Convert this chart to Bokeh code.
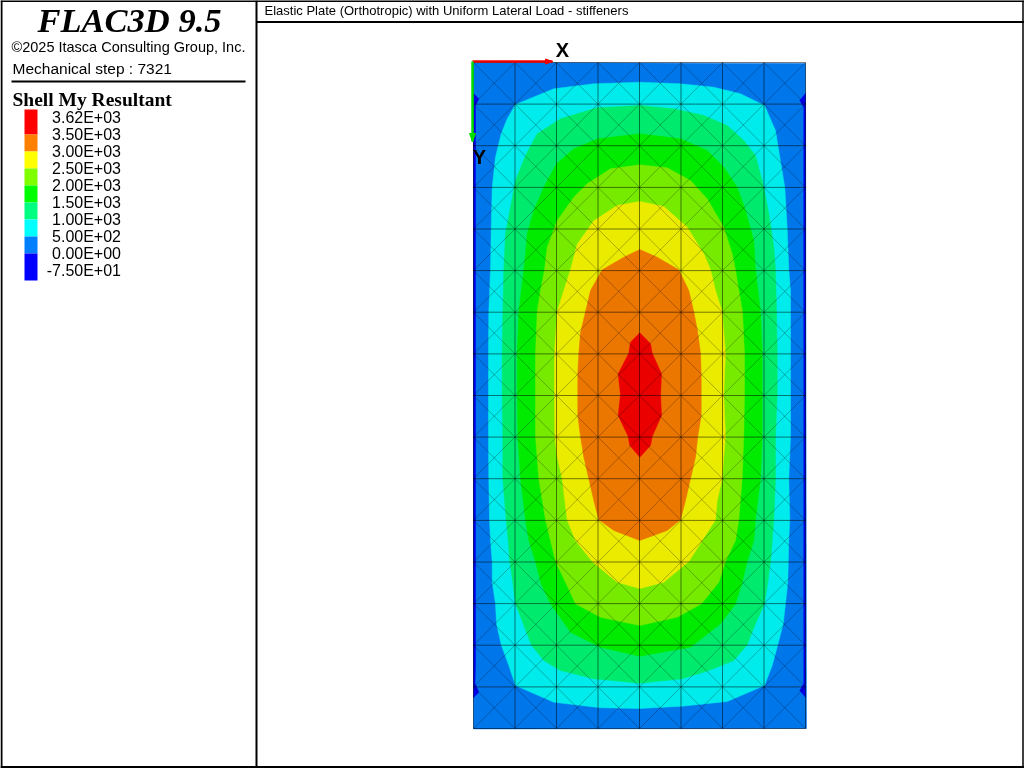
from bokeh.plotting import figure
from bokeh.models import Range1d
from bokeh.core.properties import value
from bokeh.embed import file_html
from bokeh.resources import INLINE

# ---- data -----------------------------------------------------------------
LEGEND_LABELS = ["3.62E+03", "3.50E+03", "3.00E+03", "2.50E+03", "2.00E+03",
                 "1.50E+03", "1.00E+03", "5.00E+02", "0.00E+00", "-7.50E+01"]
LEGEND_COLORS = ["#FF0000", "#FF8000", "#FFFF00", "#80FF00", "#00FF00",
                 "#00FF80", "#00FFFF", "#0080FF", "#0000FF"]

# mesh node positions in plate coordinates
MESH_X = [0, 41.5, 83, 124.5, 166, 207.5, 249, 290.5, 332]
MESH_Y = [0, 41.6, 83.2, 124.9, 166.5, 208.1, 249.7, 291.4, 333, 374.6, 416.2,
          457.9, 499.5, 541.1, 582.7, 624.4, 666]

PLATE = [(0, 0), (332, 1), (333, 666), (0, 666.5)]

BELOW_0_LEFT = [(0, 31), (5.3, 36.3), (2, 43), (2, 340), (2, 600), (1.5, 621), (5.3, 629.7), (0, 635.3)]
BELOW_0_RIGHT = [(332, 31), (326.3, 38), (330.3, 44.7), (330.3, 340), (330.3, 621), (326.3, 628), (332, 634.7)]

LEVEL_500 = [(166.3, 19.7), (207, 21.3), (240.3, 24.7), (267, 31.3), (291, 43), (302, 68), (306.3, 94.7),
             (311.3, 124.7), (313.7, 165.7), (315.3, 207.3), (317, 228), (317, 290.7), (317, 332.3), (317, 374),
             (315.3, 416.3), (316.3, 457.3), (315.3, 478), (314.3, 519.7), (312, 541.3), (309.7, 561.3),
             (304.3, 582.3), (298.7, 603), (291, 623), (253.7, 639), (208.7, 643.7), (166.3, 646), (127, 645.3),
             (80.3, 639.7), (42, 623), (35.3, 603), (27.7, 582.3), (23, 561.3), (22, 541.3), (18.7, 519.7),
             (18.7, 499), (17, 478), (16, 457.3), (15.3, 416.3), (15, 374), (15, 332.3), (15, 290.7), (15.3, 249.3),
             (17, 207.3), (17.7, 165.7), (18.7, 124.7), (22, 94.7), (27.7, 71.3), (33.7, 56.3), (42, 42),
             (80.3, 26.3), (120.3, 21.3)]

LEVEL_1000 = [(166.3, 43), (200.3, 46.3), (230.3, 53), (253.7, 63), (270.3, 78), (282, 93), (290.3, 124.7),
              (295.3, 151.3), (300.3, 184.7), (302, 207.3), (303, 249.3), (303.7, 290.7), (303.7, 332.3), (302, 374),
              (302, 416.3), (300.3, 457.3), (298.7, 478), (297, 499), (294.3, 519.7), (291, 541.3), (282, 561.3),
              (273.7, 582.3), (260.3, 598), (235.3, 608), (208.7, 616.3), (166.3, 620.7), (120.3, 616.3), (87, 608),
              (70.3, 598), (57.7, 582.3), (49.7, 561.3), (42, 541.3), (39.3, 519.7), (36.3, 499), (34.7, 478),
              (32.7, 457.3), (29.3, 416.3), (29.3, 374), (28.7, 332.3), (28.7, 290.7), (29.3, 249.3), (30.3, 207.3),
              (32, 171.3), (37, 144.7), (42, 118), (52, 93), (63.7, 71.3), (87, 56.3), (123.7, 45.3)]

LEVEL_1500 = [(166.3, 71.3), (207, 76.3), (233.7, 88), (250.3, 104.7), (263.7, 124.7), (272, 148), (280.3, 178),
              (282, 207.3), (287, 249.3), (288.7, 290.7), (288.7, 332.3), (288.7, 374), (287, 416.3), (282, 457.3),
              (280.3, 478), (273.7, 499), (268.7, 519.7), (262, 541.3), (247, 561.3), (217, 584.7), (166.3, 593.7),
              (127, 584.7), (97, 569.7), (77, 541.3), (67, 519.7), (62, 499), (55.3, 478), (52, 457.3), (47, 416.3),
              (44.3, 374), (43.7, 332.3), (43.7, 290.7), (45.3, 249.3), (50.3, 207.3), (52, 191.3), (53.7, 171.3),
              (60.3, 148), (70.3, 124.7), (83, 101.3), (100.3, 86.3), (124.7, 76.3)]

LEVEL_2000 = [(166.3, 102.3), (193.7, 105.3), (217, 118), (233.7, 136.3), (250.3, 164.7), (258.7, 191.3),
              (262, 207.3), (265.3, 228), (269, 249.3), (271, 290.7), (271, 332.3), (270.3, 374), (268.7, 416.3),
              (265.3, 457.3), (262, 478), (252, 499), (245.3, 519.7), (228, 541.3), (203.7, 554.7), (166.3, 563),
              (127, 554.7), (102, 541.3), (92, 519.7), (82, 499), (77, 478), (72, 457.3), (65.3, 416.3),
              (62, 374), (62, 332.3), (62, 290.7), (63.7, 249.3), (67, 228), (71, 207.3), (73.7, 184.7), (83.7, 158),
              (100.3, 134.7), (113.7, 121.3), (137, 106.3)]

LEVEL_2500 = [(166.3, 139), (190.3, 144), (213.7, 164.7), (230.3, 191.3), (237, 207.3), (242, 228), (248.7, 249.3),
              (250.3, 270), (252, 290.7), (250.3, 332.3), (252, 374), (250.3, 394), (248.7, 416.3), (243.7, 438),
              (242, 457.3), (228.7, 478), (215.3, 499), (190.3, 519.7), (166.3, 526), (143.7, 519.7), (118.7, 499),
              (102, 478), (93.7, 457.3), (88.7, 416.3), (83.7, 394), (81.3, 374), (81, 332.3), (81, 290.7), (83.7, 249.3),
              (90.3, 228), (97, 207.3), (103.7, 181.7), (120.3, 158.3), (143.7, 143)]

LEVEL_3000 = [(166.3, 187), (183.7, 194.7), (205.3, 207.3), (215.3, 228), (220.3, 249.3),
              (224.3, 270), (227, 290.7), (227.7, 311), (227.7, 332.3), (227.7, 353), (224.3, 374), (222, 394.7),
              (217, 416.3), (212, 438), (207, 457.3), (193.7, 468), (166.3, 478), (140.3, 468), (125.3, 457.3),
              (120.3, 438), (115.3, 416.3), (110.3, 394.7), (107, 374), (104.3, 353), (104.3, 332.3), (104.3, 311),
              (105.3, 290.7), (107, 270), (112, 249.3), (117, 228), (128.7, 207.3), (150.3, 194.7)]

LEVEL_3500 = [(166.3, 270.3), (177, 281.3), (178.7, 290.7), (188, 311.3), (187, 332.3), (188, 353), (178.7, 374),
              (177, 383), (166.3, 394.7), (156.3, 383), (154.7, 374), (144.7, 353), (147, 332.3), (144.7, 311.3),
              (155.3, 290.7), (157, 279.7)]

CONTOUR_BANDS = [LEVEL_500, LEVEL_1000, LEVEL_1500, LEVEL_2000, LEVEL_2500, LEVEL_3000, LEVEL_3500]
CONTOUR_COLORS = ["#00EBEB", "#00EB6E", "#00EB00", "#76EB00", "#EBEB00", "#EB7600", "#EB0000"]
PLATE_COLOR = "#0076EB"
BELOW_0_COLOR = "#0000EB"

# ---- figure: default range is window pixels, "plate" range is the model ----
p = figure(width=1024, height=768, output_backend="svg", toolbar_location=None,
           x_range=Range1d(0, 1024), y_range=Range1d(768, 0),
           min_border=0, min_border_left=0, min_border_right=0, min_border_top=0, min_border_bottom=0,
           outline_line_color=None, background_fill_color="white", border_fill_color="white",
           x_axis_location=None, y_axis_location=None)
p.grid.visible = False
p.styles = {"position": "fixed", "left": "0px", "top": "0px"}
p.extra_x_ranges = {"plate": Range1d(-473, 551)}
p.extra_y_ranges = {"plate": Range1d(706, -62)}
PL = dict(x_range_name="plate", y_range_name="plate")


def poly(points, color):
    p.patch([a for a, _ in points], [b for _, b in points], fill_color=color, line_color=color,
            line_width=0.5, **PL)


poly(PLATE, PLATE_COLOR)
poly(BELOW_0_LEFT, BELOW_0_COLOR)
poly(BELOW_0_RIGHT, BELOW_0_COLOR)
for band, col in zip(CONTOUR_BANDS, CONTOUR_COLORS):
    poly(band, col)

# mesh: rectangular cells with both diagonals
rx, ry = [], []
for x in MESH_X:
    rx.append([x, x]); ry.append([MESH_Y[0], MESH_Y[-1]])
for y in MESH_Y:
    rx.append([MESH_X[0], MESH_X[-1]]); ry.append([y, y])
p.multi_line(rx, ry, line_color="#000000", line_alpha=0.5, line_width=1.0, **PL)
dx, dy = [], []
for i in range(len(MESH_X) - 1):
    for j in range(len(MESH_Y) - 1):
        dx.append([MESH_X[i], MESH_X[i + 1]]); dy.append([MESH_Y[j], MESH_Y[j + 1]])
        dx.append([MESH_X[i + 1], MESH_X[i]]); dy.append([MESH_Y[j], MESH_Y[j + 1]])
p.multi_line(dx, dy, line_color="#000000", line_alpha=0.45, line_width=0.6, **PL)

# axes triad
p.line([472, 552], [61, 61], line_color="#F00000", line_width=2.5)
p.patch([545, 552, 545], [58.5, 61, 63.5], fill_color="#F00000", line_color="#F00000")
p.line([472, 472], [61, 141], line_color="#00E000", line_width=2.5)
p.patch([469, 472, 475], [133, 141, 133], fill_color="#00E000", line_color="#00E000")
for tx, ty, s in [(562, 49, "X"), (479, 156, "Y")]:
    p.text([tx], [ty], text=[s], text_font=value("Liberation Sans"), text_font_style="bold",
           text_font_size="20px", text_color="#000000", text_align="center", text_baseline="middle")

# frame
for xs, ys, w in [([1, 1], [0, 768], 2), ([1022.5, 1022.5], [0, 768], 1.5), ([0, 1024], [0.5, 0.5], 2),
                  ([0, 1024], [766.5, 766.5], 2), ([256, 256], [0, 768], 2), ([256, 1024], [21.5, 21.5], 2),
                  ([11, 245], [81, 81], 2)]:
    p.line(xs, ys, line_color="#000000", line_width=w)

# header texts
p.text([129], [19], text=["FLAC3D 9.5"], text_font=value("Liberation Serif"), text_font_style="bold italic",
       text_font_size="34.5px", text_color="#000000", text_align="center", text_baseline="middle")
p.text([11], [46], text=["\u00a92025 Itasca Consulting Group, Inc."], text_font=value("Liberation Sans"),
       text_font_size="14.5px", text_color="#000000", text_baseline="middle")
p.text([12], [67.5], text=["Mechanical step : 7321"], text_font=value("Liberation Sans"),
       text_font_size="15.5px", text_color="#000000", text_baseline="middle")
p.text([12], [98.5], text=["Shell My Resultant"], text_font=value("Liberation Serif"), text_font_style="bold",
       text_font_size="19.5px", text_color="#000000", text_baseline="middle")
p.text([264], [10], text=["Elastic Plate (Orthotropic) with Uniform Lateral Load - stiffeners"],
       text_font=value("Liberation Sans"), text_font_size="13px", text_color="#000000", text_baseline="middle")

# legend
edges = [109, 134, 151, 168, 185, 202, 219, 236, 253, 280]
p.quad(left=[24] * 9, right=[37] * 9, top=edges[:-1], bottom=edges[1:], fill_color=LEGEND_COLORS, line_color=None)
p.text([120.5] * 10, [117 + 17 * i for i in range(10)], text=LEGEND_LABELS, text_font=value("Liberation Sans"),
       text_font_size="16px", text_color="#000000", text_align="right", text_baseline="middle")

open("out.html", "w").write(file_html(p, INLINE))
